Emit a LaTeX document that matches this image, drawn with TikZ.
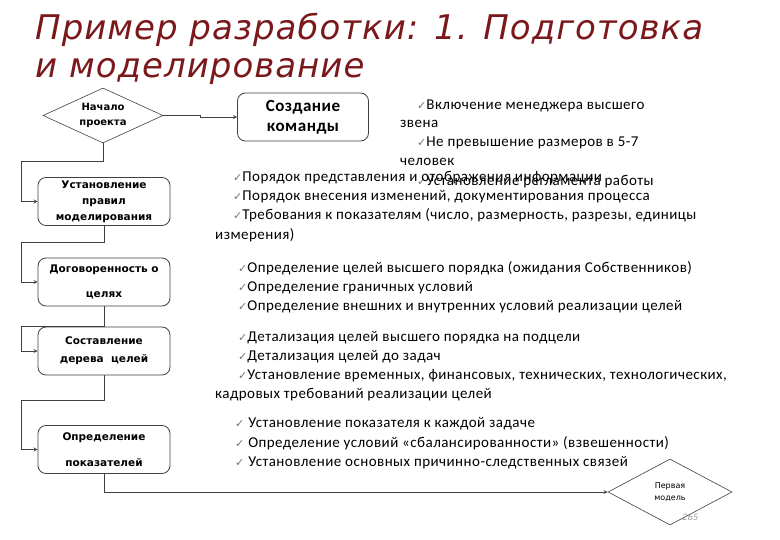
\documentclass[tikz,border=0pt]{standalone}
\usepackage{fontspec}
\setmainfont{Carlito}
\newfontfamily\titlefont[LetterSpace=3]{DejaVu Sans}
\newfontfamily\boxfont{DejaVu Sans}
\newfontfamily\bodyfont[LetterSpace=3]{Carlito}
\newfontfamily\symfont{DejaVu Sans}
\usetikzlibrary{shapes.geometric}
\definecolor{titlered}{RGB}{122,24,28}
\definecolor{linegray}{RGB}{64,64,64}
\definecolor{chkgray}{RGB}{110,120,110}
\newcommand{\chk}{{\symfont\fontsize{11}{11}\selectfont\color{chkgray}✓}}
\begin{document}
\begin{tikzpicture}[x=1pt,y=-1pt,
    stepbox/.style={draw=linegray, line width=0.8pt, rounded corners=8pt, fill=white,
      minimum width=132pt, minimum height=48pt, align=center, inner sep=2pt,
      font=\boxfont\bfseries\fontsize{10.5}{16}\selectfont},
    decision/.style={diamond, draw=linegray, line width=0.6pt, fill=white, align=center,
      inner sep=0pt, aspect=2.2},
    arr/.style={->, >=stealth, draw=linegray, line width=0.8pt},
    item/.style={anchor=base west, inner sep=0pt, font=\bodyfont\fontsize{15}{18}\selectfont}]
  % Cadre
  \path[fill=white, use as bounding box] (0,0) rectangle (780,540);

  % Заголовок
  \node[anchor=base west, inner sep=0pt, text=titlered,
    font=\titlefont\itshape\fontsize{34}{38}\selectfont] (title1) at (35,40) {Пример разработки: 1. Подготовка};
  \node[anchor=base west, inner sep=0pt, text=titlered,
    font=\titlefont\itshape\fontsize{34}{38}\selectfont] (title2) at (35,78) {и моделирование};

  % Блоки схемы
  \node[decision, minimum width=120pt, minimum height=55pt,
    font=\boxfont\bfseries\fontsize{10}{15}\selectfont] (start) at (103,115.5) {Начало\\проекта};
  \node[stepbox, minimum width=131pt, font=\bodyfont\bfseries\fontsize{17}{20}\selectfont] (team) at (303,117) {Создание\\команды};
  \node[stepbox] (rules) at (104,201.5) {Установление\\правил\\моделирования};
  \node[stepbox] (goals) at (104,282) {Договоренность о\\[9pt]целях};
  \node[stepbox] (tree) at (104,351) {Составление\\[2pt]дерева\ \ целей};
  \node[stepbox] (metrics) at (104,449.5) {Определение\\[10pt]показателей};
  \node[decision, minimum width=124pt, minimum height=66pt,
    font=\boxfont\fontsize{8}{12}\selectfont] (model) at (670,492) {Первая\\модель};

  % Левая линия
  \coordinate (lx) at (21,0);

  % Связи
  \draw[arr] (start.east) -- ++(37,0) |- (team.west);
  \draw[arr] (start.south) -- ++(0,18) -| (lx |- rules.west) -- (rules.west);
  \draw[arr] (rules.south) -- ++(0,17) -| (lx |- goals.west) -- (goals.west);
  \draw[arr] (goals.south) -- ++(0,20) -| (lx |- tree.west) -- (tree.west);
  \draw[arr] (tree.south) -- ++(0,25) -| (lx |- metrics.west) -- (metrics.west);
  \draw[arr] (metrics.south) |- (model.west);

  % Пояснения
  \foreach \x/\y/\t [count=\i] in {417/110/{\chk Включение менеджера высшего}, 400/128/звена,
      417/147/{\chk Не превышение размеров в 5-7}, 400/166/человек,
      417/186/{\chk Установление регламента работы}}
    \node[item] (a\i) at (\x,\y) {\t};
  \foreach \x/\y/\t [count=\i] in {233/182/{\chk Порядок представления и отображения информации},
      233/201/{\chk Порядок внесения изменений, документирования процесса},
      233/220/{\chk Требования к показателям (число, размерность, разрезы, единицы},
      215/240/{измерения)}}
    \node[item] (b\i) at (\x,\y) {\t};
  \foreach \x/\y/\t [count=\i] in {238/273/{\chk Определение целей высшего порядка (ожидания Собственников)},
      238/292/{\chk Определение граничных условий},
      238/311/{\chk Определение внешних и внутренних условий реализации целей}}
    \node[item] (c\i) at (\x,\y) {\t};
  \foreach \x/\y/\t [count=\i] in {238/342/{\chk Детализация целей высшего порядка на подцели},
      238/361/{\chk Детализация целей до задач},
      238/380/{\chk Установление временных, финансовых, технических, технологических,},
      215/399/{кадровых требований реализации целей}}
    \node[item] (d\i) at (\x,\y) {\t};
  \foreach \x/\y/\t [count=\i] in {235/428/{\chk\ Установление показателя к каждой задаче},
      235/447/{\chk\ Определение условий «сбалансированности» (взвешенности)},
      235/466/{\chk\ Установление основных причинно-следственных связей}}
    \node[item] (e\i) at (\x,\y) {\t};

  % Номер слайда
  \node[anchor=base west, inner sep=0pt, text=gray!80, font=\bodyfont\itshape\fontsize{10}{10}\selectfont] (page) at (682,520) {265};
\end{tikzpicture}
\end{document}
